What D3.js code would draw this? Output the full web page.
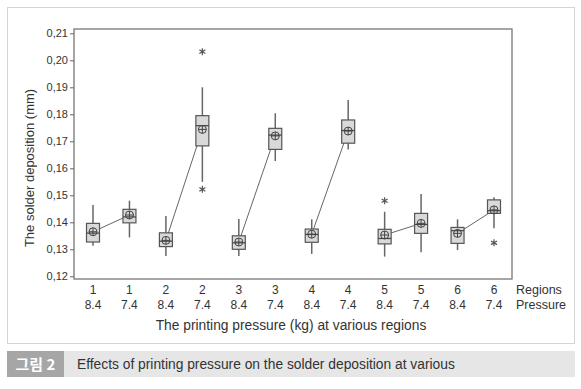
<!DOCTYPE html>
<html>
<head>
<meta charset="utf-8">
<script src="https://cdn.jsdelivr.net/npm/d3@7"></script>
<style>
    body { margin: 0; background: #fff; }
    svg { display: block; font-family: "Liberation Sans", Arial, sans-serif; }
</style>
</head>
<body>
<svg id="chart" width="581" height="389"></svg>
<script>
// values
const regions   = [1, 1, 2, 2, 3, 3, 4, 4, 5, 5, 6, 6];
const pressures = ["8.4", "7.4", "8.4", "7.4", "8.4", "7.4", "8.4", "7.4", "8.4", "7.4", "8.4", "7.4"];
const whiskerLo = [0.1313, 0.1344, 0.1275, 0.1550, 0.1275, 0.1627, 0.1283, 0.1670, 0.1273, 0.1289, 0.1297, 0.1378];
const q1        = [0.1327, 0.1398, 0.1310, 0.1683, 0.1300, 0.1670, 0.1326, 0.1693, 0.1320, 0.1359, 0.1322, 0.1433];
const medians   = [0.1360, 0.1420, 0.1330, 0.1758, 0.1324, 0.1723, 0.1355, 0.1740, 0.1340, 0.1392, 0.1369, 0.1443];
const q3        = [0.1396, 0.1448, 0.1361, 0.1795, 0.1350, 0.1748, 0.1375, 0.1779, 0.1374, 0.1433, 0.1381, 0.1483];
const whiskerHi = [0.1464, 0.1480, 0.1423, 0.1900, 0.1412, 0.1804, 0.1411, 0.1853, 0.1439, 0.1505, 0.1411, 0.1493];
const means     = [0.1365, 0.1427, 0.1333, 0.1744, 0.1327, 0.1720, 0.1356, 0.1738, 0.1353, 0.1396, 0.1359, 0.1446];
const outliers  = [[], [], [], [0.2032, 0.1522], [], [], [], [], [0.1480], [], [], [0.1324]];
const yTicks    = [0.12, 0.13, 0.14, 0.15, 0.16, 0.17, 0.18, 0.19, 0.20, 0.21];

const svg = d3.select('#chart');

// outer frame
svg.append('rect')
    .attr('x', 7.5).attr('y', 7.5)
    .attr('width', 567).attr('height', 336)
    .attr('fill', '#fff')
    .attr('stroke', '#d4d4d4');

const plotLeft = 74, plotRight = 512, plotTop = 29, plotBottom = 279;

const idx = d3.range(regions.length);
const x = d3.scalePoint()
    .domain(idx)
    .range([93, 494]);
const y = d3.scaleLinear()
    .domain([0.12, 0.21])
    .range([276.3, 33.3]);

// plot frame
svg.append('rect')
    .attr('x', plotLeft).attr('y', plotTop)
    .attr('width', plotRight - plotLeft).attr('height', plotBottom - plotTop)
    .attr('fill', 'none')
    .attr('stroke', '#777')
    .attr('stroke-width', 1.3);

// y axis
const yAxis = d3.axisLeft(y)
    .tickValues(yTicks)
    .tickSize(4)
    .tickFormat(d => d3.format('.2f')(d).replace('.', ','));
const gy = svg.append('g')
    .attr('transform', `translate(${plotLeft},0)`)
    .call(yAxis);
gy.select('.domain').remove();
gy.selectAll('line').attr('stroke', '#666');
gy.selectAll('text')
    .attr('font-size', 11)
    .attr('fill', '#333')
    .attr('x', -6);

// mean connecting lines, one per region pair
const meanLine = d3.line()
    .x(i => x(i))
    .y(i => y(means[i]));
d3.range(0, regions.length, 2).forEach(i => {
    svg.append('path')
        .attr('d', meanLine([i, i + 1]))
        .attr('fill', 'none')
        .attr('stroke', '#666')
        .attr('stroke-width', 1);
});

const boxW = 13;
const boxes = svg.selectAll('g.box')
    .data(idx)
    .join('g')
    .attr('class', 'box');

boxes.append('line')
    .attr('x1', i => x(i)).attr('x2', i => x(i))
    .attr('y1', i => y(whiskerHi[i])).attr('y2', i => y(q3[i]))
    .attr('stroke', '#666').attr('stroke-width', 1.5);
boxes.append('line')
    .attr('x1', i => x(i)).attr('x2', i => x(i))
    .attr('y1', i => y(q1[i])).attr('y2', i => y(whiskerLo[i]))
    .attr('stroke', '#666').attr('stroke-width', 1.5);
boxes.append('rect')
    .attr('x', i => x(i) - boxW / 2)
    .attr('y', i => y(q3[i]))
    .attr('width', boxW)
    .attr('height', i => y(q1[i]) - y(q3[i]))
    .attr('fill', '#d9d9d9')
    .attr('stroke', '#555')
    .attr('stroke-width', 1.2);
boxes.append('line')
    .attr('x1', i => x(i) - boxW / 2).attr('x2', i => x(i) + boxW / 2)
    .attr('y1', i => y(medians[i])).attr('y2', i => y(medians[i]))
    .attr('stroke', '#444').attr('stroke-width', 1.2);

// mean symbol: circle with cross
boxes.append('circle')
    .attr('cx', i => x(i)).attr('cy', i => y(means[i]))
    .attr('r', 4)
    .attr('fill', 'none')
    .attr('stroke', '#444').attr('stroke-width', 1);
boxes.append('path')
    .attr('d', i => `M${x(i) - 4},${y(means[i])}h8M${x(i)},${y(means[i]) - 4}v8`)
    .attr('stroke', '#444').attr('stroke-width', 1);

// outliers as asterisks
idx.forEach(i => {
    outliers[i].forEach(v => {
        svg.append('path')
            .attr('transform', `translate(${x(i)},${y(v)})`)
            .attr('d', 'M0,-3.5V3.5M-3,-1.8L3,1.8M-3,1.8L3,-1.8')
            .attr('stroke', '#555').attr('stroke-width', 1.2)
            .attr('fill', 'none');
    });
});

// x category labels
const xl = svg.append('g').attr('font-size', 12).attr('fill', '#333').attr('text-anchor', 'middle');
idx.forEach(i => {
    xl.append('text').attr('x', x(i)).attr('y', 294).text(regions[i]);
    xl.append('text').attr('x', x(i)).attr('y', 309).text(pressures[i]);
});
svg.append('text').attr('x', 516).attr('y', 294).attr('font-size', 12.5).attr('fill', '#333').text('Regions');
svg.append('text').attr('x', 516).attr('y', 309).attr('font-size', 12.5).attr('fill', '#333').text('Pressure');

// axis titles
svg.append('text')
    .attr('x', 291).attr('y', 330)
    .attr('text-anchor', 'middle')
    .attr('font-size', 13.8)
    .attr('fill', '#333')
    .text('The printing pressure (kg) at various regions');
svg.append('text')
    .attr('transform', 'translate(34,168) rotate(-90)')
    .attr('text-anchor', 'middle')
    .attr('font-size', 13)
    .attr('fill', '#333')
    .text('The solder deposition (mm)');

// caption bar
svg.append('rect')
    .attr('x', 7).attr('y', 351).attr('width', 568).attr('height', 26)
    .attr('fill', '#e6e6e6');
svg.append('rect')
    .attr('x', 7).attr('y', 351).attr('width', 57).attr('height', 26)
    .attr('fill', '#a6a6a6');
svg.append('text')
    .attr('x', 35.5).attr('y', 369.5)
    .attr('text-anchor', 'middle')
    .attr('font-family', '"Noto Sans CJK KR", sans-serif')
    .attr('font-weight', 'bold')
    .attr('font-size', 15)
    .attr('fill', '#fff')
    .text('그림 2');
svg.append('text')
    .attr('x', 77).attr('y', 369)
    .attr('font-size', 13.8)
    .attr('fill', '#333')
    .text('Effects of printing pressure on the solder deposition at various');
</script>
</body>
</html>
